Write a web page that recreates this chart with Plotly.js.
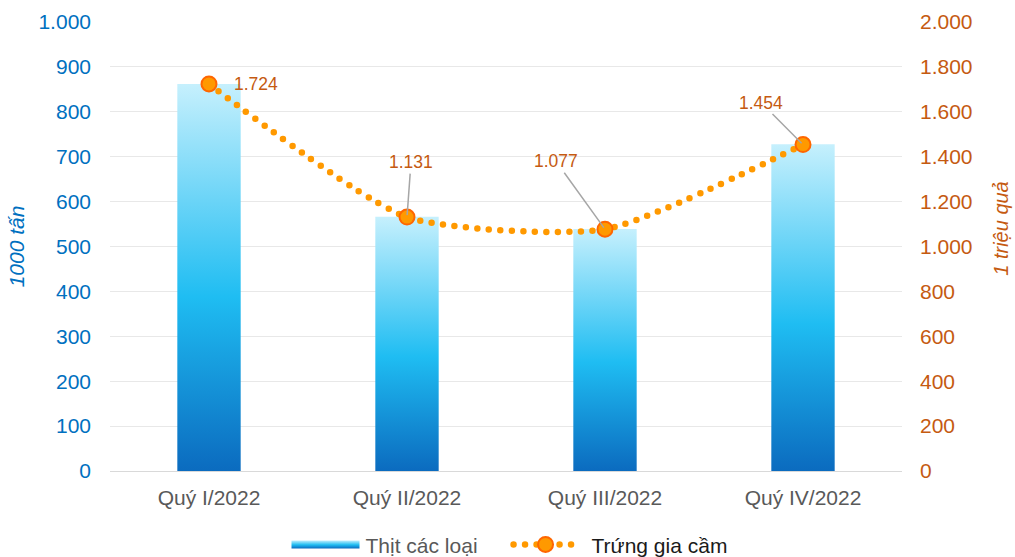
<!DOCTYPE html>
<html>
<head>
<meta charset="utf-8">
<script src="https://cdn.plot.ly/plotly-3.0.1.min.js"></script>
<style>html,body{margin:0;padding:0;background:#fff;}#chart{width:1015px;height:557px;}</style>
</head>
<body>
<div id="chart"></div>
<script>
const categories = ["Quý I/2022", "Quý II/2022", "Quý III/2022", "Quý IV/2022"];
const meatValues = [862, 566, 539, 728];
const eggValues = [1724, 1131, 1077, 1454];
const meatName = "Thịt các loại";
const eggName = "Trứng gia cầm";
const leftTitle = "1000 tấn";
const rightTitle = "1 triệu quả";

function fmt(v) { return String(v).replace(/\B(?=(\d{3})+(?!\d))/g, "."); }

const FONT = "Liberation Sans, Arial, sans-serif";

const labelOffsets = [
  {showarrow: false, xshift: 47, yshift: 0},
  {showarrow: true, ax: 4, ay: -55},
  {showarrow: true, ax: -49, ay: -68},
  {showarrow: true, ax: -42, ay: -42}
];

const annotations = eggValues.map((v, i) => Object.assign({
  x: categories[i], y: v, xref: "x", yref: "y2",
  text: fmt(v),
  font: {family: FONT, size: 17.5, color: "#c55a11"},
  arrowhead: 0, arrowwidth: 1.5, arrowcolor: "#a6a6a6", standoff: 2
}, labelOffsets[i]));

const traces = [
  {
    type: "bar", x: categories, y: meatValues, name: '<span style="color:#595959">' + meatName + '</span>',
    marker: {color: "#29b8ef"}, hoverinfo: "none"
  },
  {
    type: "scatter", mode: "lines+markers", x: categories, y: eggValues, yaxis: "y2",
    name: '<span style="color:#1a1a1a">' + eggName + '</span>',
    line: {color: "#ff9900", width: 6.5, shape: "spline", smoothing: 0.6, dash: "dot"},
    marker: {size: 15, color: "#ff9900", line: {color: "#ff6600", width: 2}},
    hoverinfo: "none"
  }
];

const tickFont = {family: FONT, size: 21};

const layout = {
  width: 1015, height: 557,
  margin: {l: 110, r: 113, t: 22, b: 86},
  paper_bgcolor: "#ffffff", plot_bgcolor: "#ffffff",
  separators: ",.",
  bargap: 0.68,
  showlegend: true,
  legend: {orientation: "h", x: 0.5, xanchor: "center", xref: "container",
    y: 0.022, yanchor: "middle", yref: "container",
    font: {family: FONT, size: 21, color: "#595959"}, itemwidth: 64, tracegroupgap: 0},
  xaxis: {
    tickfont: Object.assign({color: "#595959"}, tickFont),
    showline: true, linecolor: "#d9d9d9", linewidth: 1, ticks: "", showgrid: false,
    ticklabelstandoff: 8
  },
  yaxis: {
    range: [0, 1000], dtick: 100, tickformat: ",d",
    tickfont: Object.assign({color: "#0070c0"}, tickFont),
    gridcolor: "#e8e8e8", gridwidth: 1, zeroline: false, ticks: "", ticklabelstandoff: 18,
    title: {text: leftTitle, font: {family: FONT, size: 21, color: "#0070c0", style: "italic"}, standoff: 8}
  },
  yaxis2: {
    range: [0, 2000], dtick: 200, tickformat: ",d", overlaying: "y", side: "right",
    tickfont: Object.assign({color: "#c55a11"}, tickFont),
    showgrid: false, zeroline: false, ticks: "", ticklabelstandoff: 17,
    title: {text: rightTitle, font: {family: FONT, size: 20, color: "#c55a11", style: "italic"}, standoff: 22}
  },
  annotations: annotations
};

function shiftTransform(el, dx) {
  const t = el.getAttribute("transform") || "translate(0,0)";
  const m = t.match(/translate\(\s*([-\d.e]+)[ ,]\s*([-\d.e]+)\s*\)/);
  if (m) el.setAttribute("transform", "translate(" + (parseFloat(m[1]) + dx) + "," + m[2] + ")");
}

Plotly.newPlot("chart", traces, layout, {staticPlot: true}).then(gd => {
  const svg = gd.querySelector(".main-svg");
  const ns = "http://www.w3.org/2000/svg";
  let defs = svg.querySelector("defs");
  if (!defs) { defs = document.createElementNS(ns, "defs"); svg.insertBefore(defs, svg.firstChild); }
  const grad = document.createElementNS(ns, "linearGradient");
  grad.setAttribute("id", "barGrad");
  grad.setAttribute("x1", "0"); grad.setAttribute("y1", "0");
  grad.setAttribute("x2", "0"); grad.setAttribute("y2", "1");
  [["0%", "#c6f0fd"], ["55%", "#1fbdf2"], ["100%", "#0b6bbf"]].forEach(([o, c]) => {
    const s = document.createElementNS(ns, "stop");
    s.setAttribute("offset", o); s.setAttribute("stop-color", c);
    grad.appendChild(s);
  });
  defs.appendChild(grad);
  gd.querySelectorAll(".barlayer .point path").forEach(p => { p.style.fill = "url(#barGrad)"; });
  gd.querySelectorAll(".legend [clip-path]").forEach(e => e.removeAttribute("clip-path"));
  const legendTraces = gd.querySelectorAll(".legend .traces");
  if (legendTraces.length > 0) {
    const txt = legendTraces[0].querySelector("text.legendtext");
    const pathEl = legendTraces[0].querySelector(".legendpoints path");
    if (txt && pathEl) {
      pathEl.setAttribute("d", "M0,-4H68V4H0Z");
      pathEl.style.fill = "url(#barGrad)";
      pathEl.style.strokeWidth = "0";
      const pb = pathEl.getBoundingClientRect();
      const tr = txt.getBoundingClientRect();
      const dx = (tr.left - 6 - 68) - pb.left;
      pathEl.setAttribute("d", "M" + dx + ",-4H" + (dx + 68) + "V4H" + dx + "Z");
    }
  }
  if (legendTraces.length > 1) {
    shiftTransform(legendTraces[1], 26);
    legendTraces[1].querySelectorAll("text.legendtext").forEach(t => {
      t.setAttribute("x", parseFloat(t.getAttribute("x")) + 9);
    });
    const lg = gd.querySelector(".legend");
    if (lg) shiftTransform(lg, -13);
  }
  const y2t = gd.querySelector(".g-y2title");
  if (y2t) y2t.setAttribute("transform", "translate(0,-18)");
  gd.querySelectorAll(".scatterlayer .js-line, .legend .legendlines path").forEach(p => {
    p.style.strokeDasharray = "0 11.5";
    p.style.strokeLinecap = "round";
  });
});
</script>
</body>
</html>
